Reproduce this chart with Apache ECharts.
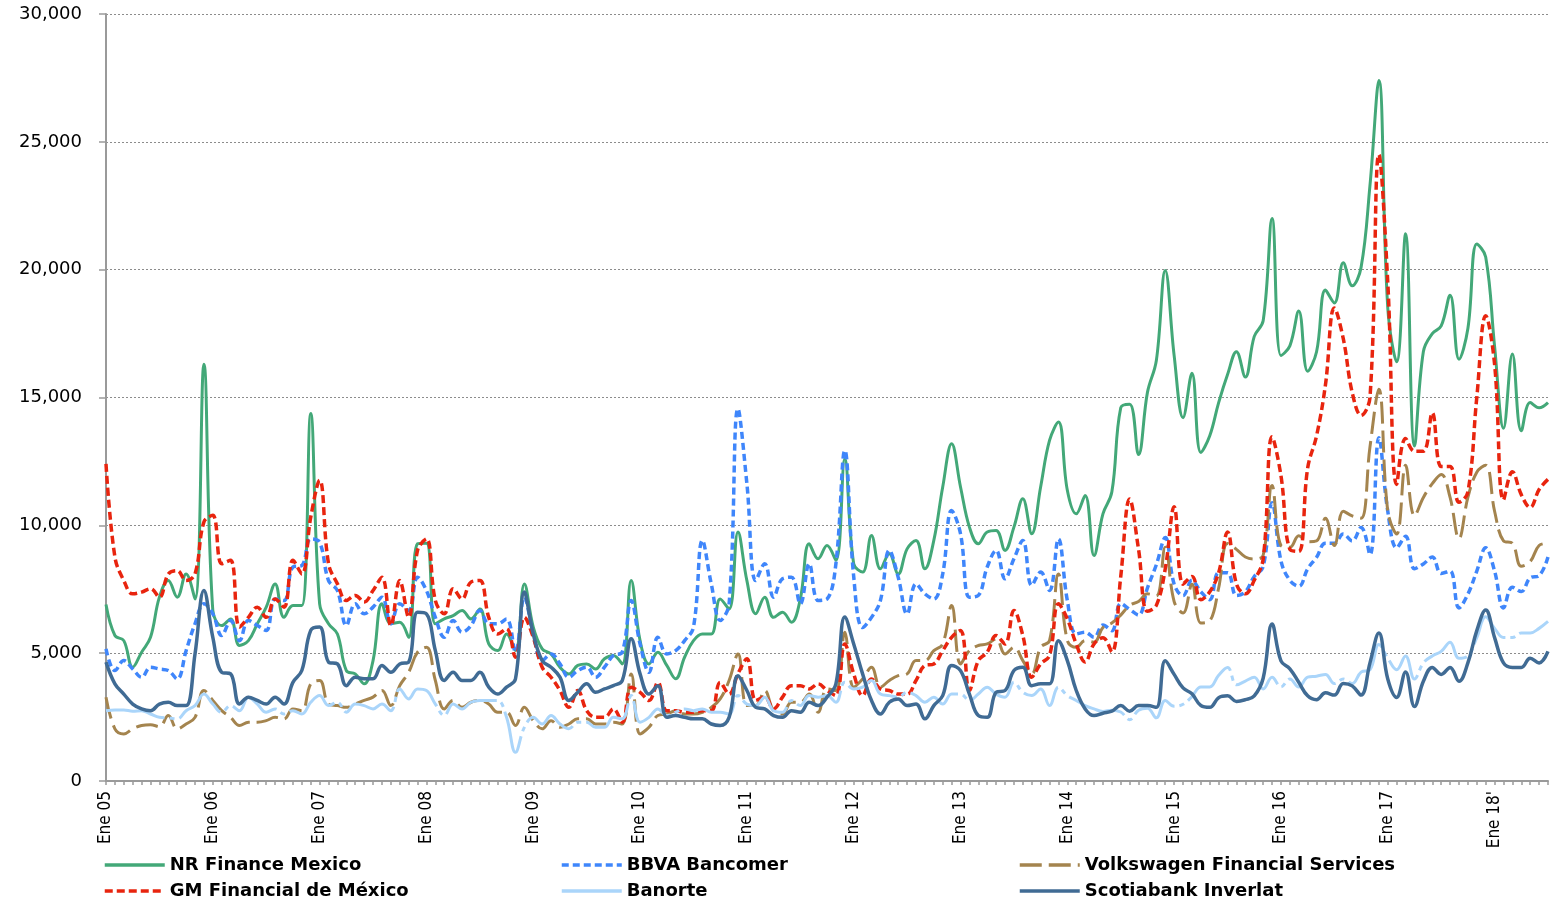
<!DOCTYPE html>
<html>
<head>
<meta charset="utf-8">
<title>Financieras - ventas mensuales</title>
<script src="https://cdn.jsdelivr.net/npm/echarts@6/dist/echarts.min.js"></script>
<style>
  html, body { margin: 0; padding: 0; background: #fff; }
  #chart { width: 1551px; height: 901px; }
</style>
</head>
<body>
<div id="chart"></div>
<script>
// meses Ene 05 .. Jul 18
var monthNames = ['Ene', 'Feb', 'Mar', 'Abr', 'May', 'Jun', 'Jul', 'Ago', 'Sep', 'Oct', 'Nov', 'Dic']
var years = ['05', '06', '07', '08', '09', '10', '11', '12', '13', '14', '15', '16', '17', '18']
var tickLabels = ['Ene 05', 'Ene 06', 'Ene 07', 'Ene 08', 'Ene 09', 'Ene 10', 'Ene 11',
  'Ene 12', 'Ene 13', 'Ene 14', 'Ene 15', 'Ene 16', 'Ene 17', "Ene 18'"]
var lastMonthOf18 = 7

var categories = []
years.forEach(function (y, yi) {
  var n = yi === years.length - 1 ? lastMonthOf18 : 12
  for (var m = 0; m < n; m++) categories.push(monthNames[m] + ' ' + y)
})

// una fila por año
var nrFinance = [
  6900, 5690, 5490, 4450, 5040, 5620, 7190, 7840, 7190, 8100, 7120, 16300,
  6670, 6080, 6340, 5300, 5490, 6150, 6800, 7710, 6400, 6860, 6860, 14370,
  6930, 6150, 5750, 4320, 4190, 3800, 4710, 6930, 6150, 6210, 5620, 9280,
  9300, 6150, 6340, 6470, 6670, 6340, 6730, 5360, 5100, 5750, 5100, 7710,
  6020, 5170, 4970, 4450, 4190, 4520, 4580, 4380, 4780, 4910, 4580, 7840,
  5490, 4580, 5040, 4520, 4000, 4840, 5490, 5750, 5750, 7120, 6730, 9740,
  7840, 6540, 7190, 6400, 6600, 6210, 7120, 9280, 8690, 9210, 8630, 12600,
  8500, 8170, 9600, 8300, 8890, 8100, 9080, 9410, 8300, 9410, 11500, 13190,
  11500, 9930, 9280, 9740, 9800, 9020, 9930, 11040, 9670, 11500, 13320, 14040,
  11370, 10450, 11170, 8820, 10450, 11300, 14600, 14740, 12770, 15200, 16450, 19970,
  16640, 14210, 15950, 12850, 13500, 14800, 15900, 16790, 15800, 17390, 18000, 22000,
  16640, 17020, 18380, 16030, 16790, 19200, 18700, 20270, 19370, 20090, 23300, 27400,
  18500, 16400, 21400, 13100, 16800, 17500, 17800, 19000, 16500, 17700, 21000, 20500,
  17000, 13800, 16700, 13700, 14800, 14600, 14800
]

var gmFinancial = [
  12400, 8760, 7840, 7320, 7390, 7520, 7190, 8100, 8230, 7840, 8100, 10130,
  10390, 8500, 8630, 6020, 6400, 6800, 6400, 7120, 6800, 8630, 8100, 10320,
  11760, 8500, 7710, 7060, 7260, 7000, 7450, 7970, 6080, 7840, 6400, 9020,
  9470, 7060, 6540, 7520, 7120, 7780, 7840, 6400, 5750, 5950, 4840, 6400,
  5620, 4450, 4060, 3540, 2880, 3540, 2750, 2490, 2490, 2820, 2300, 3670,
  3470, 3150, 3860, 2750, 2750, 2690, 2690, 2750, 2750, 3860, 3400, 4200,
  4780, 3150, 3280, 2820, 3280, 3730, 3730, 3600, 3800, 3540, 3340, 5360,
  4190, 3340, 3990, 3600, 3540, 3400, 3400, 3930, 4520, 4580, 5100, 5620,
  5890, 3540, 4710, 5040, 5690, 5360, 6670, 5690, 4060, 4580, 4910, 6930,
  6340, 5360, 4650, 5360, 5600, 5050, 8000, 11030, 9060, 6640, 6870, 8300,
  10730, 7700, 8000, 7090, 7400, 8150, 9740, 7700, 7320, 7850, 8680, 13460,
  11940, 9060, 8980, 12240, 13500, 15500, 18500, 17300, 15200, 14300, 15000, 24500,
  19500, 11600, 13400, 12900, 12900, 14400, 12300, 12300, 10900, 11300, 15000, 18200,
  16300, 11000, 12100, 11200, 10700, 11400, 11800
]

var bbva = [
  5170, 4320, 4710, 4380, 4060, 4450, 4380, 4320, 3990, 5100, 6150, 6930,
  6540, 5690, 6280, 5490, 6280, 6080, 5890, 7120, 7060, 8370, 8430, 9470,
  9340, 7840, 7450, 6080, 6930, 6540, 6800, 7190, 6150, 6930, 6670, 7970,
  7450, 6400, 5620, 6280, 5820, 6080, 6670, 6150, 6150, 6340, 5040, 7190,
  5750, 4710, 4970, 4580, 4060, 4320, 4450, 4060, 4450, 4910, 5040, 7060,
  5360, 4250, 5620, 4970, 5100, 5490, 6020, 9410, 7710, 6280, 6930, 14560,
  11630, 7840, 8500, 7190, 7910, 7970, 6930, 8500, 7060, 7120, 8500, 12930,
  8000, 6000, 6400, 7060, 9020, 7970, 6530, 7710, 7320, 7120, 8100, 10580,
  9670, 7190, 7260, 8370, 9020, 7910, 8690, 9410, 7650, 8170, 7450, 9470,
  7060, 5750, 5820, 5620, 6100, 5880, 6940, 6710, 6490, 7550, 8460, 9520,
  7700, 7250, 7850, 7400, 7090, 8150, 8150, 7250, 7400, 8000, 8380, 10880,
  8610, 7850, 7620, 8300, 8750, 9300, 9300, 9660, 9390, 9920, 8850, 13430,
  10550, 9120, 9570, 8300, 8490, 8760, 8120, 8210, 6770, 7310, 8210, 9120,
  8210, 6770, 7580, 7410, 7950, 8030, 8760
]

var volkswagen = [
  3280, 2040, 1840, 2040, 2170, 2200, 2130, 2560, 2040, 2230, 2490, 3540,
  3150, 2750, 2490, 2170, 2300, 2300, 2360, 2490, 2430, 2820, 2750, 3800,
  3930, 3010, 2950, 2880, 3010, 3150, 3280, 3540, 2950, 3730, 4250, 5040,
  5230, 3930, 2820, 3150, 2880, 3080, 3150, 3010, 2690, 2690, 2170, 2880,
  2360, 2040, 2360, 2100, 2230, 2430, 2430, 2230, 2230, 2300, 2230, 4190,
  1840, 2100, 2560, 2620, 2750, 2620, 2620, 2690, 2880, 3210, 3930, 4970,
  2950, 2950, 3540, 2750, 2620, 3080, 3080, 3400, 2690, 3600, 3540, 5820,
  3670, 3990, 4450, 3670, 3930, 4120, 4190, 4710, 4710, 5100, 5360, 6860,
  4580, 5100, 5300, 5360, 5560, 4970, 5230, 4710, 4190, 5230, 5490, 8100,
  5490, 5230, 5490, 5430, 6000, 6180, 6490, 6870, 7020, 7320, 7240, 9140,
  7020, 6570, 7700, 6180, 6260, 7550, 9290, 9060, 8760, 8680, 8830, 11560,
  9210, 9140, 9590, 9360, 9390, 10280, 9210, 10550, 10370, 10280, 13070, 15320,
  10550, 9660, 12350, 10370, 11090, 11630, 11990, 11090, 9480, 11090, 12080, 12350,
  10550, 9390, 9300, 8400, 8580, 9210, 9300
]

var banorte = [
  2750, 2780, 2780, 2730, 2750, 2620, 2490, 2470, 2430, 2750, 2950, 3400,
  3010, 2690, 2950, 2750, 3280, 3010, 2690, 2820, 2620, 2750, 2620, 3080,
  3340, 2950, 3080, 2690, 3010, 2950, 2820, 3010, 2750, 3600, 3210, 3600,
  3540, 3010, 2560, 3010, 2820, 3080, 3150, 3150, 3150, 2490, 1120, 2100,
  2490, 2230, 2560, 2230, 2040, 2300, 2300, 2100, 2100, 2490, 2430, 3340,
  2300, 2490, 2820, 2560, 2690, 2820, 2750, 2820, 2690, 2690, 2620, 3340,
  3010, 2950, 3280, 2750, 2690, 3150, 2950, 3340, 3280, 3340, 3080, 3860,
  3600, 3670, 3930, 3400, 3340, 3280, 3470, 3340, 3080, 3280, 3010, 3400,
  3400, 3150, 3400, 3670, 3400, 3280, 3860, 3470, 3340, 3600, 2950, 3670,
  3340, 3150, 2950, 2820, 2720, 2770, 2700, 2400, 2770, 2850, 2470, 3150,
  2920, 3000, 3300, 3680, 3680, 4140, 4440, 3760, 3910, 4060, 3600, 4060,
  3680, 3990, 3680, 4060, 4100, 4170, 3810, 3990, 3810, 4260, 4350, 5340,
  4800, 4350, 4890, 3990, 4620, 4890, 5070, 5430, 4800, 4890, 5610, 6420,
  5970, 5610, 5610, 5790, 5790, 5970, 6240
]

var scotiabank = [
  4650, 3800, 3400, 3010, 2820, 2750, 3010, 3080, 2950, 2950, 4970, 7450,
  5620, 4250, 4190, 3010, 3280, 3150, 3010, 3280, 3010, 3860, 4320, 5890,
  6020, 4650, 4580, 3730, 4060, 4000, 4000, 4520, 4250, 4580, 4650, 6600,
  6540, 5100, 3930, 4250, 3930, 3930, 4250, 3670, 3400, 3670, 3990, 7390,
  5750, 4710, 4450, 4060, 3150, 3470, 3800, 3470, 3600, 3730, 3930, 5560,
  4190, 3400, 3730, 2490, 2560, 2490, 2430, 2430, 2230, 2170, 2490, 4120,
  3540, 2880, 2820, 2560, 2490, 2750, 2690, 3080, 2950, 3280, 3800, 6410,
  5360, 4190, 3150, 2620, 3080, 3210, 2950, 3010, 2430, 2950, 3340, 4520,
  4320, 3400, 2560, 2490, 3470, 3540, 4320, 4450, 3730, 3800, 3800, 5490,
  4710, 3540, 2820, 2560, 2650, 2730, 2950, 2730, 2950, 2950, 2880, 4700,
  4170, 3640, 3410, 2950, 2880, 3260, 3330, 3110, 3180, 3330, 4020, 6140,
  4700, 4390, 3860, 3330, 3180, 3450, 3360, 3810, 3720, 3360, 4620, 5790,
  3990, 3270, 4260, 2910, 3900, 4440, 4170, 4440, 3900, 4620, 5880, 6690,
  5610, 4620, 4440, 4440, 4800, 4620, 5070
]

var chart = echarts.init(document.getElementById('chart'))

function lineSeries(name, data, color, width, dash) {
  return {
    name: name,
    type: 'line',
    data: data,
    symbol: 'none',
    smooth: 0.4,
    lineStyle: {color: color, width: width, type: dash},
    itemStyle: {color: color}
  }
}

// orden de la leyenda (3 columnas, por filas)
var series = [
  lineSeries('NR Finance Mexico', nrFinance, '#43a878', 3, 'solid'),
  lineSeries('BBVA Bancomer', bbva, '#3f86fb', 3.5, [7, 4]),
  lineSeries('Volkswagen Financial Services', volkswagen, '#a4844e', 3, [22, 7]),
  lineSeries('GM Financial de México', gmFinancial, '#e8240e', 3.5, [8, 4]),
  lineSeries('Banorte', banorte, '#aad5fa', 3, [60, 5, 5, 5]),
  lineSeries('Scotiabank Inverlat', scotiabank, '#406b94', 3.5, 'solid')
]

var legendFont = {fontFamily: 'DejaVu Sans', fontWeight: 'bold', fontSize: 18, color: '#000'}
var legendSpots = [[103, 856], [560, 856], [1018, 856], [103, 882], [560, 882], [1018, 882]]
var legends = series.map(function (s, i) {
  return {
    data: [s.name],
    left: legendSpots[i][0],
    top: legendSpots[i][1],
    padding: 0,
    itemWidth: 60,
    itemHeight: 14,
    selectedMode: false,
    itemStyle: {opacity: 0},
    lineStyle: {width: 3.5},
    textStyle: legendFont
  }
})

var option = {
  animation: false,
  backgroundColor: '#fff',
  grid: {left: 106, right: 3, top: 14, bottom: 120, containLabel: false},
  legend: legends,
  xAxis: {
    type: 'category',
    data: categories,
    boundaryGap: false,
    axisLine: {lineStyle: {color: '#9a9a9a', width: 2}},
    axisTick: {show: true, interval: 0, length: 4, lineStyle: {color: '#9a9a9a', width: 1.5}},
    axisLabel: {
      interval: function (idx) { return idx % 12 === 0 },
      formatter: function (v, idx) { return tickLabels[Math.floor(idx / 12)] },
      rotate: 90,
      margin: 10,
      fontFamily: "'Liberation Sans Narrow', 'DejaVu Sans Condensed', sans-serif",
      fontSize: 17,
      color: '#000'
    },
    splitLine: {show: false}
  },
  yAxis: {
    type: 'value',
    min: 0,
    max: 30000,
    interval: 5000,
    axisLine: {show: true, lineStyle: {color: '#9a9a9a', width: 2}},
    axisTick: {show: true, length: 7, lineStyle: {color: '#9a9a9a', width: 1.5}},
    axisLabel: {
      margin: 24,
      fontFamily: 'DejaVu Sans',
      fontSize: 18,
      color: '#000',
      formatter: function (v) { return v.toLocaleString('en-US') }
    },
    splitLine: {show: true, lineStyle: {color: '#8c8c8c', width: 1, type: [2, 2]}}
  },
  series: series
}

chart.setOption(option)
</script>
</body>
</html>
